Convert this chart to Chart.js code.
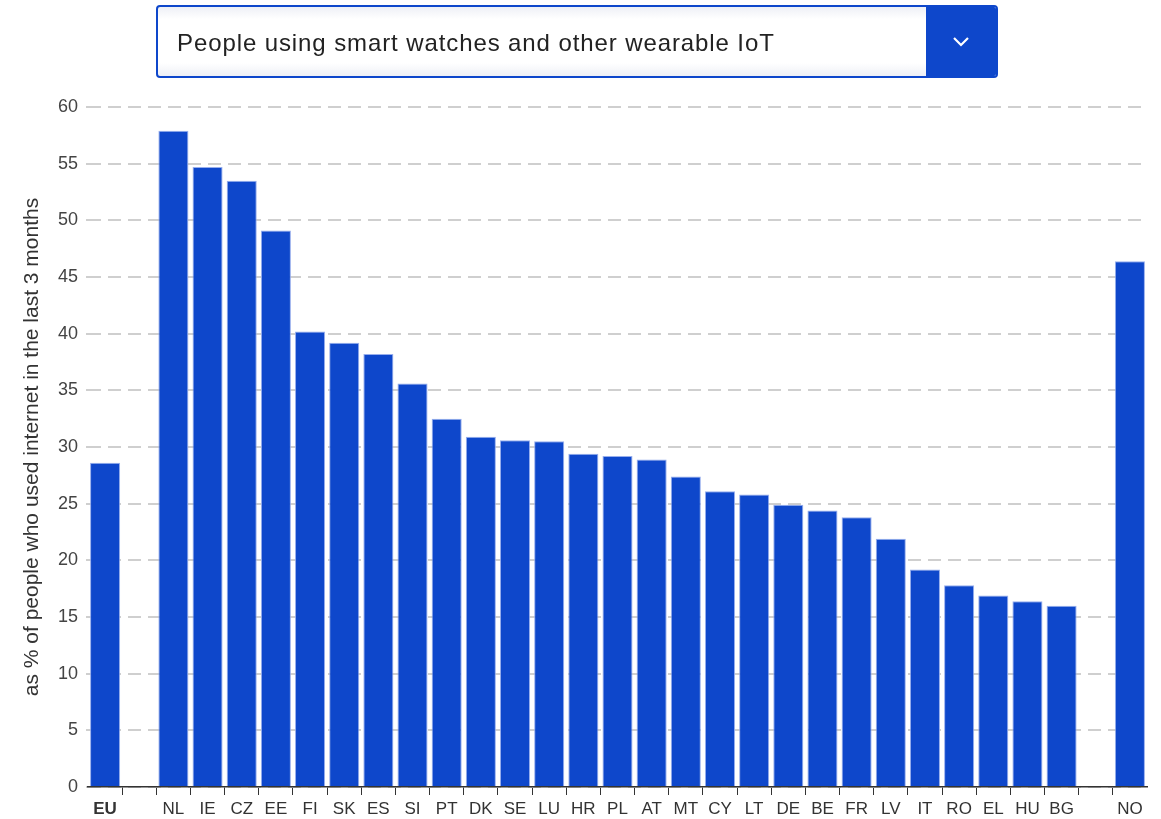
<!DOCTYPE html>
<html>
<head>
<meta charset="utf-8">
<script src="https://cdn.jsdelivr.net/npm/chart.js@4.4.1/dist/chart.umd.min.js"></script>
<style>
  html, body { margin: 0; padding: 0; background: #fff; }
  body { width: 1161px; height: 819px; position: relative; overflow: hidden; font-family: "Liberation Sans", Arial, sans-serif; }
  .chart-wrap { position: absolute; left: 0; top: 0; width: 1161px; height: 819px; }
  .select-box {
    position: absolute; left: 156px; top: 5px; width: 838px; height: 69px;
    border: 2px solid #0e47cb; border-radius: 4px; overflow: hidden;
    background: linear-gradient(#eef0f6, #fff 12px, #fff 56px, #eef0f6);
  }
  .select-box .label {
    position: absolute; left: 19px; top: 1px; line-height: 69px;
    font-size: 24px; letter-spacing: 0.9px; color: #222;
  }
  .select-box .btn {
    position: absolute; right: 0; top: 0; width: 70px; height: 69px; background: #0e47cb;
  }
  .select-box .btn svg { position: absolute; left: 26px; top: 29px; }
</style>
</head>
<body>
<div class="chart-wrap"><canvas id="chart"></canvas></div>
<div class="select-box">
  <div class="label">People using smart watches and other wearable IoT</div>
  <div class="btn"><svg width="18" height="12" viewBox="0 0 18 12"><polyline points="2,2 9,9 16,2" fill="none" stroke="#fff" stroke-width="2.2"/></svg></div>
</div>
<script>
// country codes, empty strings are spacer slots
const countries = ["EU", "", "NL", "IE", "CZ", "EE", "FI", "SK", "ES", "SI", "PT", "DK", "SE", "LU", "HR",
  "PL", "AT", "MT", "CY", "LT", "DE", "BE", "FR", "LV", "IT", "RO", "EL", "HU", "BG", "", "NO"];
// % of internet users
const values = [28.6, null, 57.9, 54.7, 53.5, 49.1, 40.2, 39.2, 38.2, 35.6, 32.5, 30.9, 30.6, 30.5, 29.4,
  29.2, 28.9, 27.4, 26.1, 25.8, 24.9, 24.4, 23.8, 21.9, 19.2, 17.8, 16.9, 16.4, 16.0, null, 46.4];
const yTitle = "as % of people who used internet in the last 3 months";

const blue = "#0e47cb";
//no tick mark at both ends of the x axis
const edgeTick = (ctx) => (ctx.type !== "tick" || ctx.index === 0 ? "rgba(0,0,0,0)" : "#333");

new Chart(document.getElementById("chart"), {
  type: "bar",
  data: {
    labels: countries,
    datasets: [{
      data: values,
      backgroundColor: blue,
      borderColor: "rgba(140,165,235,0.9)",
      borderWidth: 1,
      categoryPercentage: 1,
      barPercentage: 0.88,
    }],
  },
  options: {
    responsive: true,
    maintainAspectRatio: false,
    animation: false,
    layout: { padding: { top: 107, right: 14, left: 0, bottom: 0 } },
    plugins: { legend: { display: false }, tooltip: { enabled: false } },
    scales: {
      x: {
        afterFit: (s) => { s.height = 32; },
        grid: {
          drawOnChartArea: false, drawTicks: true, tickLength: 8, offset: true,
          color: edgeTick, tickColor: edgeTick,
        },
        border: { display: true, color: "#333", width: 1.5 },
        ticks: {
          autoSkip: false, maxRotation: 0, padding: 4, color: "#333",
          //EU average is bold
          font: (ctx) => ({ family: "Liberation Sans", size: 17, weight: ctx.index === 0 ? "bold" : "normal" }),
        },
      },
      y: {
        min: 0, max: 60,
        afterFit: (s) => { s.width = 88; },
        border: { display: false, dash: [13, 7] },
        grid: { color: "#cfcfcf", lineWidth: 2, tickLength: 2, drawTicks: true },
        ticks: { stepSize: 5, padding: 8, color: "#444", font: { family: "Liberation Sans", size: 18 } },
        title: {
          display: true, text: yTitle, color: "#333",
          font: { family: "Liberation Sans", size: 21 },
          padding: { top: 20, bottom: 0 },
        },
      },
    },
  },
});
</script>
</body>
</html>
